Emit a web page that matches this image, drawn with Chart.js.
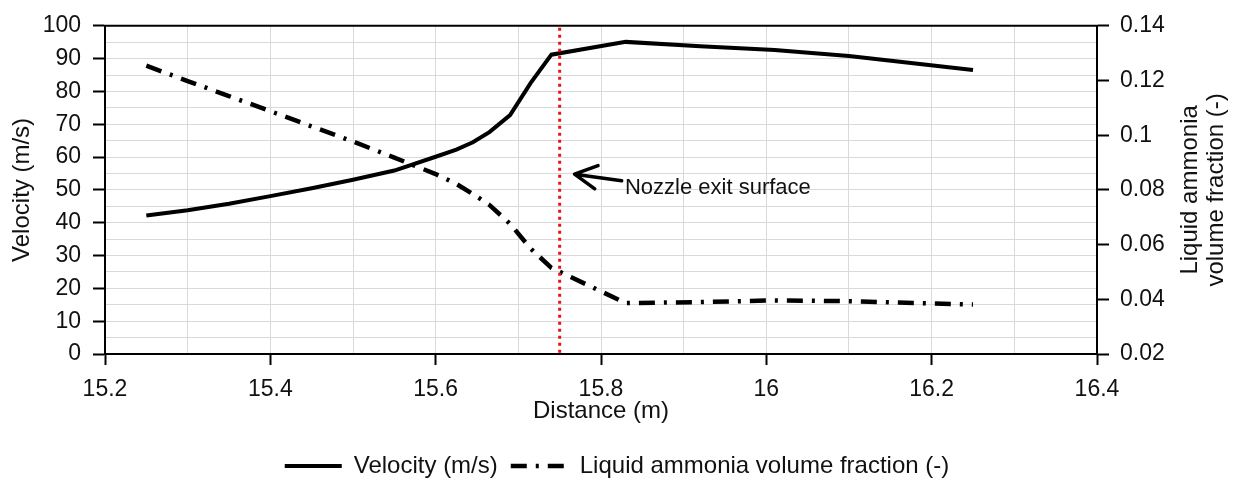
<!DOCTYPE html>
<html>
<head>
<meta charset="utf-8">
<script src="https://cdn.jsdelivr.net/npm/chart.js@4.4.1/dist/chart.umd.min.js"></script>
<style>
  html, body { margin: 0; padding: 0; background: #fff; }
  #wrap { width: 1234px; height: 485px; }
</style>
</head>
<body>
<div id="wrap"><canvas id="chart" width="1234" height="485"></canvas></div>
<script>
// distância (m) e valores das duas séries
const distance = [15.25, 15.3, 15.35, 15.4, 15.45, 15.5, 15.55, 15.6, 15.625, 15.645, 15.665, 15.69, 15.715, 15.74, 15.83, 15.92, 16.01, 16.1, 16.25];
const velocity = [42.2, 43.8, 45.8, 48.1, 50.5, 53.1, 55.9, 60.1, 62.3, 64.5, 67.6, 72.8, 82.6, 91.2, 95.1, 93.8, 92.6, 90.8, 86.5];
const fraction = [0.1254, 0.1198, 0.1143, 0.1088, 0.1032, 0.0977, 0.0918, 0.0858, 0.0822, 0.0785, 0.0745, 0.0676, 0.0585, 0.0515, 0.0386, 0.0390, 0.0396, 0.0393, 0.0381];

const seriesLabels = ['Velocity (m/s)', 'Liquid ammonia volume fraction (-)'];
const rightTitle = ['Liquid ammonia', 'volume fraction (-)'];

// saída do bocal
const nozzleExit = 15.75;
const noteText = 'Nozzle exit surface';
const noteTail = { x: 15.825, y: 52.8 };
const noteTip = { x: 15.768, y: 54.8 };
const noteAt = { x: 15.829, y: 50.6 };

const FONT = '"Liberation Sans", Arial, sans-serif';
const INK = '#111';
const GRID = '#d9d9d9';
const PAD_BOTTOM = -3;

function pts(ys) {
  return distance.map((x, i) => ({ x: x, y: ys[i] }));
}

// desenha a linha vermelha, a seta, o texto e o título da direita
const extras = {
  id: 'extras',
  afterDatasetsDraw(chart) {
    const { ctx, chartArea, scales } = chart;
    const xs = scales.x, ys = scales.y;
    ctx.save();

    // borda superior
    ctx.strokeStyle = '#000';
    ctx.lineWidth = 2;
    ctx.beginPath();
    ctx.moveTo(chartArea.left - 1, chartArea.top);
    ctx.lineTo(chartArea.right + 1, chartArea.top);
    ctx.stroke();

    // linha pontilhada vermelha
    const px = xs.getPixelForValue(nozzleExit);
    ctx.strokeStyle = '#e8141c';
    ctx.lineWidth = 3;
    ctx.setLineDash([3, 4]);
    ctx.beginPath();
    ctx.moveTo(px, chartArea.top + 2);
    ctx.lineTo(px, chartArea.bottom);
    ctx.stroke();
    ctx.setLineDash([]);

    // seta
    const tx = xs.getPixelForValue(noteTip.x), ty = ys.getPixelForValue(noteTip.y);
    const sx = xs.getPixelForValue(noteTail.x), sy = ys.getPixelForValue(noteTail.y);
    const ang = Math.atan2(sy - ty, sx - tx);
    ctx.strokeStyle = '#000';
    ctx.lineWidth = 3.5;
    ctx.lineCap = 'round';
    ctx.lineJoin = 'round';
    ctx.beginPath();
    ctx.moveTo(sx, sy);
    ctx.lineTo(tx, ty);
    ctx.moveTo(tx + 25 * Math.cos(ang - 0.49), ty + 25 * Math.sin(ang - 0.49));
    ctx.lineTo(tx, ty);
    ctx.lineTo(tx + 25 * Math.cos(ang + 0.49), ty + 25 * Math.sin(ang + 0.49));
    ctx.stroke();

    ctx.fillStyle = INK;
    ctx.font = '22px ' + FONT;
    ctx.textAlign = 'left';
    ctx.textBaseline = 'middle';
    ctx.fillText(noteText, xs.getPixelForValue(noteAt.x), ys.getPixelForValue(noteAt.y));

    // título do eixo da direita (duas linhas, lendo de baixo para cima)
    ctx.font = '24px ' + FONT;
    ctx.textAlign = 'center';
    ctx.translate(1203, (chartArea.top + chartArea.bottom) / 2);
    ctx.rotate(-Math.PI / 2);
    ctx.fillText(rightTitle[0], 0, -13);
    ctx.fillText(rightTitle[1], 0, 13);
    ctx.restore();
  }
};

const isMajorX = v => Math.round(v * 10) % 2 === 0;

new Chart(document.getElementById('chart'), {
  type: 'line',
  data: {
    datasets: [
      {
        label: seriesLabels[0],
        data: pts(velocity),
        yAxisID: 'y',
        borderColor: '#000',
        borderWidth: 4,
        pointRadius: 0,
        tension: 0,
        fill: false
      },
      {
        label: seriesLabels[1],
        data: pts(fraction),
        yAxisID: 'y1',
        borderColor: '#000',
        borderWidth: 4.5,
        borderDash: [16, 9, 3, 9],
        pointRadius: 0,
        tension: 0,
        fill: false
      }
    ]
  },
  options: {
    responsive: false,
    animation: false,
    layout: { padding: { top: 23, left: 0, right: 0, bottom: PAD_BOTTOM } },
    plugins: {
      tooltip: { enabled: false },
      legend: {
        position: 'bottom',
        labels: {
          usePointStyle: true,
          pointStyleWidth: 57,
          padding: 13,
          color: INK,
          font: { family: FONT, size: 24 },
          generateLabels: chart => chart.data.datasets.map((ds, i) => ({
            text: ds.label,
            datasetIndex: i,
            fillStyle: ds.borderColor,
            strokeStyle: ds.borderColor,
            lineWidth: ds.borderWidth,
            lineDash: ds.borderDash || [],
            pointStyle: 'line',
            fontColor: INK,
            hidden: false
          }))
        }
      }
    },
    scales: {
      x: {
        type: 'linear',
        min: 15.2,
        max: 16.4,
        afterFit: s => { s.height = 485 - 354 - s.chart.legend.height - PAD_BOTTOM; },
        ticks: {
          stepSize: 0.1,
          autoSkip: false,
          maxRotation: 0,
          padding: 11,
          color: INK,
          font: { family: FONT, size: 23 },
          callback: v => isMajorX(v) ? String(Math.round(v * 10) / 10) : ''
        },
        grid: {
          color: GRID,
          lineWidth: 1,
          tickLength: 11,
          tickWidth: 2,
          tickColor: c => isMajorX(c.tick.value) ? '#000' : 'rgba(0,0,0,0)'
        },
        border: { color: '#000', width: 2 },
        title: {
          display: true,
          text: 'Distance (m)',
          color: INK,
          font: { family: FONT, size: 24 },
          padding: { top: 0, bottom: 15 }
        }
      },
      y: {
        position: 'left',
        min: 0,
        max: 100,
        afterFit: s => { s.width = 105; },
        ticks: {
          stepSize: 5,
          autoSkip: false,
          padding: 12,
          color: INK,
          font: { family: FONT, size: 23 },
          callback: v => v % 10 === 0 ? String(v) : ''
        },
        grid: {
          color: GRID,
          lineWidth: 1,
          tickLength: 12,
          tickWidth: 2,
          tickColor: c => c.tick.value % 10 === 0 ? '#000' : 'rgba(0,0,0,0)'
        },
        border: { color: '#000', width: 2 },
        title: {
          display: true,
          text: 'Velocity (m/s)',
          color: INK,
          font: { family: FONT, size: 24 },
          padding: { top: 8, bottom: 0 }
        }
      },
      y1: {
        position: 'right',
        min: 0.02,
        max: 0.14,
        afterFit: s => { s.width = 1234 - 1097; },
        ticks: {
          stepSize: 0.02,
          autoSkip: false,
          padding: 11,
          color: INK,
          font: { family: FONT, size: 23 },
          callback: v => String(+v.toFixed(2))
        },
        grid: {
          drawOnChartArea: false,
          tickLength: 12,
          tickWidth: 2,
          tickColor: '#000'
        },
        border: { color: '#000', width: 2 }
      }
    }
  },
  plugins: [extras]
});
</script>
</body>
</html>
